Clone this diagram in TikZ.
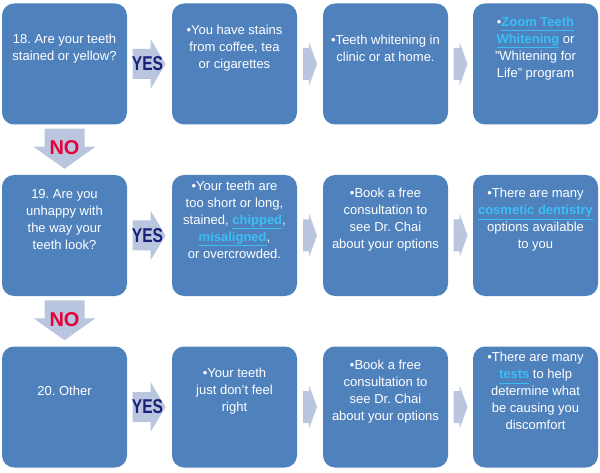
\documentclass[tikz,border=0pt]{standalone}
\usepackage{fontspec}
\setmainfont{Liberation Sans}
\usetikzlibrary{calc}
\frenchspacing

\definecolor{boxblue}{RGB}{79,129,189}
\definecolor{arrowgray}{RGB}{186,197,224}
\definecolor{yesblue}{RGB}{24,32,120}
\definecolor{nored}{RGB}{230,0,55}
\definecolor{linkblue}{RGB}{60,190,245}

% underlined links in the boxes
\newcommand{\lnk}[1]{{\color{linkblue}\bfseries\underline{#1\vphantom{y}}}}

% fat arrow with YES between two boxes of a row
\newcommand{\yesarrow}[2]{%
  \begin{scope}[shift={($(#1.east)!0.5!(#2.west)$)}]
    \fill[arrowgray] (-17,-15) -- (1,-15) -- (1,-25) -- (16,0) -- (1,25) -- (1,15) -- (-17,15) -- cycle;
  \end{scope}
  \node[yeslabel] (yes#1) at ($(#1.east)!0.5!(#2.west)+(-2,0)$) {\scalebox{0.78}[1]{YES}};
}
% small arrow between two boxes of a row
\newcommand{\steparrow}[2]{%
  \begin{scope}[shift={($(#1.east)!0.5!(#2.west)$)}]
    \fill[arrowgray] (-7,-16) -- (-1,-16) -- (-1,-22) -- (7,0) -- (-1,22) -- (-1,16) -- (-7,16) -- cycle;
  \end{scope}
}
% fat arrow with NO down to the next question
\newcommand{\noarrow}[2]{%
  \begin{scope}[shift={($(#1.south)!0.5!(#2.north)$)}]
    \fill[arrowgray] (-20,-21) -- (20,-21) -- (20,-3) -- (31,-3) -- (0,19) -- (-31,-3) -- (-20,-3) -- cycle;
  \end{scope}
  \node[nolabel] (no#1) at ($(#1.south)!0.5!(#2.north)+(0,-2)$) {NO};
}

\begin{document}
\begin{tikzpicture}[x=1pt, y=-1pt,
    qbox/.style={rectangle, rounded corners=12pt, fill=boxblue, minimum width=125pt, minimum height=121pt, inner sep=0pt},
    boxtext/.style={text=white, align=center, inner sep=0pt, font=\fontsize{13}{17}\selectfont},
    yeslabel/.style={text=yesblue, inner sep=0pt, font=\bfseries\fontsize{20}{20}\selectfont},
    nolabel/.style={text=nored, inner sep=0pt, font=\bfseries\fontsize{20}{20}\selectfont}]
    \useasboundingbox (0,0) rectangle (600,473);

    % Draw the boxes
    \node[qbox] (q18) at (64.5,64) {};
    \node[qbox] (a18) at (234.5,64) {};
    \node[qbox] (b18) at (385.5,64) {};
    \node[qbox] (c18) at (535.5,64) {};

    \node[qbox] (q19) at (64.5,235.5) {};
    \node[qbox] (a19) at (234.5,235.5) {};
    \node[qbox] (b19) at (385.5,235.5) {};
    \node[qbox] (c19) at (535.5,235.5) {};

    \node[qbox] (q20) at (64.5,407) {};
    \node[qbox] (a20) at (234.5,407) {};
    \node[qbox] (b20) at (385.5,407) {};
    \node[qbox] (c20) at (535.5,407) {};

    % Texts in the boxes
    \node[boxtext] (tq18) at ($(q18.north)+(0,45)$) {18. Are your teeth\\stained or yellow?};
    \node[boxtext] (ta18) at ($(a18.north)+(0,45)$) {•You have stains\\from coffee, tea\\or cigarettes};
    \node[boxtext] (tb18) at ($(b18.north)+(0,45)$) {•Teeth whitening in\\clinic or at home.};
    \node[boxtext] (tc18) at ($(c18.north)+(0,45)$) {•\lnk{Zoom Teeth}\\\lnk{Whitening} or\\"Whitening for\\Life" program};

    \node[boxtext] (tq19) at ($(q19.north)+(0,45)$) {19. Are you\\unhappy with\\the way your\\teeth look?};
    \node[boxtext] (ta19) at ($(a19.north)+(0,45)$) {•Your teeth are\\too short or long,\\stained, \lnk{chipped},\\\lnk{misaligned},\\or overcrowded.};
    \node[boxtext] (tb19) at ($(b19.north)+(0,45)$) {•Book a free\\consultation to\\see Dr. Chai\\about your options};
    \node[boxtext] (tc19) at ($(c19.north)+(0,45)$) {•There are many\\\lnk{cosmetic dentistry}\\options available\\to you};

    \node[boxtext] (tq20) at ($(q20.north)+(0,45)$) {20. Other};
    \node[boxtext] (ta20) at ($(a20.north)+(0,45)$) {•Your teeth\\just don't feel\\right};
    \node[boxtext] (tb20) at ($(b20.north)+(0,45)$) {•Book a free\\consultation to\\see Dr. Chai\\about your options};
    \node[boxtext] (tc20) at ($(c20.north)+(0,45)$) {•There are many\\\lnk{tests} to help\\determine what\\be causing you\\discomfort};

    % Arrows along the rows
    \yesarrow{q18}{a18}
    \steparrow{a18}{b18}
    \steparrow{b18}{c18}
    \yesarrow{q19}{a19}
    \steparrow{a19}{b19}
    \steparrow{b19}{c19}
    \yesarrow{q20}{a20}
    \steparrow{a20}{b20}
    \steparrow{b20}{c20}

    % Arrows down the first column
    \noarrow{q18}{q19}
    \noarrow{q19}{q20}
\end{tikzpicture}
\end{document}
